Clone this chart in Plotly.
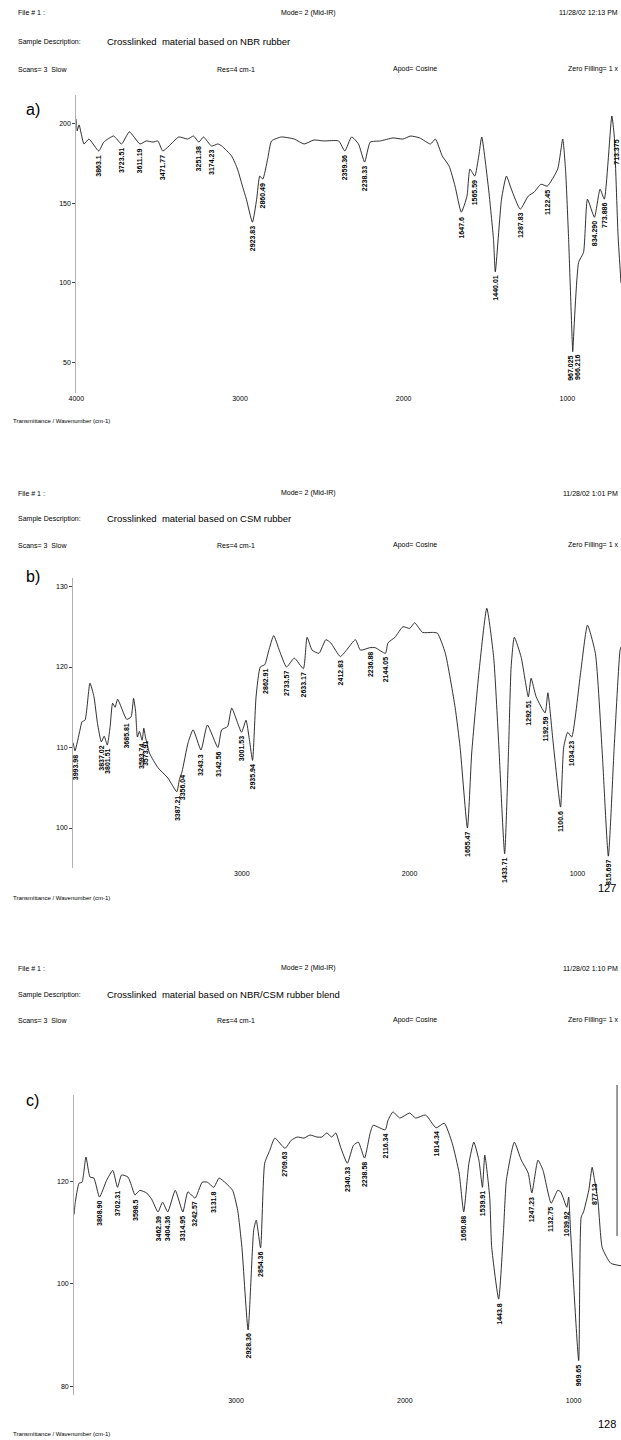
import plotly.graph_objects as go

PAGE_W, PAGE_H = 621, 1440


def px(x):
    return x / PAGE_W


def py(y):
    return 1 - y / PAGE_H


# ---------------- spectrum a) NBR rubber ----------------
a_wn = [4000, 3995, 3983, 3953, 3923, 3863.1, 3832, 3772, 3723.51, 3676,
        3611.19, 3573, 3531, 3502, 3471.77, 3434, 3374, 3320, 3284, 3251.38,
        3223, 3174.23, 3135, 3111, 3051, 3015, 2985, 2961, 2923.83, 2898,
        2879, 2860.49, 2831, 2807, 2747, 2668, 2608, 2548, 2488, 2397,
        2359.36, 2318, 2276, 2238.33, 2204, 2143, 2065, 2005, 1957, 1902,
        1836, 1806, 1764, 1722, 1686, 1647.6, 1613, 1595, 1565.59, 1541,
        1523, 1481, 1451, 1440.01, 1402, 1372, 1342, 1287.83, 1239, 1203,
        1161, 1122.45, 1059, 1028, 1010, 992, 967.025, 966.216, 931, 901,
        877, 834.29, 800, 773.886, 728, 713.375, 690, 672]
a_t = [203, 195.6, 199.4, 187.4, 190.5, 183, 188.6, 192.4, 187.4, 195,
       187.4, 189.3, 188.6, 189.3, 183, 186.1, 191.8, 190.5, 192.4, 188.6,
       191.8, 186.1, 187.4, 186.1, 179.8, 171.6, 160.9, 152.7, 138.2, 152.7,
       167.2, 165.3, 177.9, 189.3, 191.8, 190.5, 187.4, 189.9, 189.3, 189.3,
       183, 191.8, 187.4, 176, 188.6, 189.3, 191.2, 190.5, 192.4, 191.2,
       187.4, 190.5, 179.8, 173.5, 160.9, 144.5, 154.6, 171.6, 167.2, 179.8,
       191.8, 159, 127.4, 107, 152.7, 167.2, 159, 146.4, 154.6, 157.1,
       162.1, 160.9, 171.6, 190.5, 169.7, 127.4, 56.8, 57.5, 112.9, 119.2,
       152.7, 141.3, 159, 152.7, 205, 192.4, 130, 100]
a_peaks = ["3863.1", "3723.51", "3611.19", "3471.77", "3251.38", "3174.23",
           "2923.83", "2860.49", "2359.36", "2238.33", "1647.6", "1565.59",
           "1440.01", "1287.83", "1122.45", "967.025", "966.216", "834.290",
           "773.886", "713.375"]
a_yticks = [50, 100, 150, 200]

# ---------------- spectrum b) CSM rubber ----------------
b_wn = [4005, 3993.98, 3964, 3952, 3934, 3905, 3881, 3860, 3837.02, 3820,
        3801.51, 3785, 3770, 3755, 3740, 3685.81, 3660, 3645, 3633, 3622,
        3610, 3593.74, 3584, 3573.91, 3550, 3500, 3440, 3387.21, 3372, 3356.04,
        3320, 3290, 3243.3, 3205, 3142.56, 3120, 3085, 3060, 3001.53, 2975,
        2955, 2935.94, 2915, 2890, 2862.91, 2840, 2810, 2775, 2733.57, 2687,
        2633.17, 2611, 2581, 2540, 2499, 2470, 2412.83, 2376, 2323, 2293,
        2236.88, 2205, 2144.05, 2129, 2087, 2040, 1999, 1970, 1923, 1864,
        1834, 1787, 1729, 1699, 1655.47, 1630, 1587, 1540, 1499, 1470,
        1433.71, 1410, 1395, 1376, 1335, 1292.51, 1276, 1246, 1192.59, 1176,
        1146, 1100.6, 1082, 1058, 1034.23, 981, 940, 893, 852, 815.697,
        781, 746, 740]
b_t = [110.6, 109.6, 112.2, 113.2, 113.4, 118.0, 116.3, 113.0, 110.7, 111.4,
       110.3, 112.5, 115.5, 115.0, 116.0, 113.5, 113.8, 116.1, 114.5, 111.3,
       112.0, 110.9, 112.4, 111.3, 109.3, 107.5, 106.2, 104.5, 106.0, 107.0,
       110.6, 112.2, 109.7, 112.8, 110.0, 112.2, 112.6, 114.9, 111.9, 113.4,
       111.0, 108.4, 116.3, 120.0, 120.3, 122.0, 123.9, 122.0, 120.0, 121.1,
       119.8, 123.7, 122.1, 121.7, 123.4, 123.0, 121.3, 122.1, 123.4, 122.1,
       122.4, 122.4, 121.7, 123.0, 123.7, 125.0, 124.8, 125.5, 124.3, 124.3,
       124.2, 121.7, 115.0, 110.0, 100.0, 109.3, 119.3, 127.3, 121.2, 110.9,
       96.8, 110.0, 120.0, 123.7, 121.2, 116.3, 118.6, 116.3, 114.3, 116.8,
       110.9, 102.6, 110.0, 111.9, 111.3, 119.3, 125.2, 121.7, 109.3, 96.5,
       110.0, 122.1, 122.5]
b_peaks = ["3993.98", "3837.02", "3801.51", "3685.81", "3593.74", "3573.91",
           "3387.21", "3356.04", "3243.3", "3142.56", "3001.53", "2935.94",
           "2862.91", "2733.57", "2633.17", "2412.83", "2236.88", "2144.05",
           "1655.47", "1433.71", "1292.51", "1192.59", "1100.6", "1034.23",
           "815.697"]
b_yticks = [100, 110, 120, 130]

# ---------------- spectrum c) NBR/CSM blend ----------------
c_wn = [3959, 3953, 3930, 3912, 3889, 3865, 3842, 3808.9, 3766, 3730,
        3702.31, 3678, 3640, 3620, 3598.5, 3570, 3530, 3500, 3462.39, 3435,
        3404.36, 3360, 3314.95, 3285, 3242.57, 3200, 3170, 3131.8, 3100, 3060,
        3020, 2990, 2965, 2928.36, 2895, 2880, 2854.36, 2830, 2800, 2770,
        2709.63, 2672, 2637, 2597, 2562, 2520, 2491, 2462, 2433, 2409,
        2380, 2340.33, 2304, 2275, 2238.58, 2205, 2187, 2116.34, 2099, 2070,
        2029, 1971, 1936, 1877, 1814.34, 1766, 1719, 1678, 1650.88, 1620,
        1591, 1561, 1539.91, 1526, 1497, 1485, 1443.8, 1415, 1398, 1351,
        1310, 1269, 1247.23, 1211, 1181, 1132.75, 1094, 1076, 1039.92, 1029,
        1018, 969.65, 955, 941, 910, 890, 877.13, 855, 830, 780,
        719]
c_t = [113.5, 115.7, 119.6, 119.8, 124.7, 120.8, 120.6, 116.9, 120.2, 122.1,
       118.8, 121.2, 120.8, 119.2, 117.3, 118.2, 117.7, 116.5, 114.0, 115.9,
       114.0, 118.2, 114.0, 117.9, 116.7, 119.8, 119.8, 118.8, 120.6, 119.6,
       118.2, 114.3, 107.1, 91.0, 110.5, 112.4, 107.0, 123.5, 126.0, 128.4,
       126.4, 128.0, 128.6, 128.4, 129.0, 128.6, 128.6, 129.4, 128.6, 129.4,
       126.6, 123.5, 127.0, 127.6, 124.5, 129.4, 130.9, 130.0, 131.9, 133.5,
       132.3, 133.3, 132.3, 132.9, 130.4, 131.3, 127.4, 121.6, 114.0, 123.5,
       127.6, 124.1, 118.8, 125.1, 116.9, 107.1, 97.0, 110.4, 120.2, 127.6,
       124.1, 121.6, 117.7, 124.1, 122.1, 115.7, 118.2, 117.9, 114.9, 116.9,
       110.4, 85.0, 113.0, 114.0, 118.2, 122.7, 120.5, 116.0, 107.0, 104.0,
       103.5]
c_peaks = ["3808.90", "3702.31", "3598.5", "3462.39", "3404.36", "3314.95",
           "3242.57", "3131.8", "2928.36", "2854.36", "2709.63", "2340.33",
           "2238.58", "2116.34", "1814.34", "1650.88", "1539.91", "1443.8",
           "1247.23", "1132.75", "1039.92", "969.65", "877.13"]
c_yticks = [80, 100, 120]

xticks_a = [4000, 3000, 2000, 1000]
xticks_bc = [3000, 2000, 1000]

# small sideways nudges for crowded labels
label_xshift = {"967.025": -3, "966.216": 4, "713.375": 2}

headers = [
    dict(mode="Mode= 2 (Mid-IR)", date="11/28/02 12:13 PM",
         desc="Crosslinked  material based on NBR rubber",
         rows=(13, 42, 69), tag="a)", tag_y=110, page=None, foot_y=421),
    dict(mode="Mode= 2 (Mid-IR)", date="11/28/02 1:01 PM",
         desc="Crosslinked  material based on CSM rubber",
         rows=(493, 519, 545), tag="b)", tag_y=576, page="127", foot_y=898),
    dict(mode="Mode= 2 (Mid-IR)", date="11/28/02 1:10 PM",
         desc="Crosslinked  material based on NBR/CSM rubber blend",
         rows=(968, 995, 1020), tag="c)", tag_y=1100, page="128", foot_y=1434),
]

panels = [
    dict(wn=a_wn, t=a_t, peaks=a_peaks, xa="x", ya="y",
         xdom=(69.2, 621), xr=(4000, 672), ydom=(95, 393), yr=(30.8, 218.2),
         yt=a_yticks, xt=xticks_a),
    dict(wn=b_wn, t=b_t, peaks=b_peaks, xa="x2", ya="y2",
         xdom=(66, 621), xr=(4005, 740.3), ydom=(578, 868), yr=(95.03, 131.06),
         yt=b_yticks, xt=xticks_bc),
    dict(wn=c_wn, t=c_t, peaks=c_peaks, xa="x3", ya="y3",
         xdom=(67, 621), xr=(3959, 719), ydom=(1095, 1395), yr=(78.3, 136.8),
         yt=c_yticks, xt=xticks_bc),
]

for p in panels:
    assert len(p["wn"]) == len(p["t"])

fig = go.Figure()
HEAD_FONT = "Liberation Sans, Arial, sans-serif"
LABEL_FONT = "Liberation Sans Narrow, Liberation Sans, Arial, sans-serif"
annotations = []
layout_axes = {}

for i, p in enumerate(panels):
    fig.add_trace(go.Scatter(
        x=p["wn"], y=p["t"], mode="lines",
        line=dict(color="#1a1a1a", width=0.9, shape="spline", smoothing=0.5),
        xaxis=p["xa"], yaxis=p["ya"], hoverinfo="skip", showlegend=False))

    suffix = "" if i == 0 else str(i + 1)
    layout_axes["xaxis" + suffix] = dict(
        domain=[px(p["xdom"][0]), px(p["xdom"][1])], range=list(p["xr"]),
        anchor=p["ya"], tickvals=p["xt"], ticks="", showline=False,
        showgrid=False, zeroline=False,
        tickfont=dict(family=HEAD_FONT, size=7, color="#000"))
    layout_axes["yaxis" + suffix] = dict(
        domain=[py(p["ydom"][1]), py(p["ydom"][0])], range=list(p["yr"]),
        anchor=p["xa"], tickvals=p["yt"], ticks="outside", ticklen=3,
        tickcolor="#444", tickwidth=1, showline=True, linecolor="#b0b0b0",
        linewidth=1, showgrid=False, zeroline=False,
        tickfont=dict(family=HEAD_FONT, size=7, color="#000"))

    # peak position labels hanging under each band
    for lab in p["peaks"]:
        w = float(lab)
        k = min(range(len(p["wn"])), key=lambda j: abs(p["wn"][j] - w))
        annotations.append(dict(
            x=p["wn"][k], y=p["t"][k], xref=p["xa"], yref=p["ya"],
            text=lab, showarrow=False, textangle=-90,
            xanchor="center", yanchor="top", yshift=-2,
            xshift=label_xshift.get(lab, 0),
            font=dict(family=LABEL_FONT, size=7, color="#000",
                      weight="bold")))

for h in headers:
    r1, r2, r3 = h["rows"]
    small = dict(family=HEAD_FONT, size=7, color="#000")
    items = [
        (8, r1, "File # 1 :", "left", small),
        (304, r1, h["mode"], "center", small),
        (620, r1, h["date"], "right", small),
        (8, r2, "Sample Description:", "left", small),
        (98, r2 - 1, h["desc"], "left",
         dict(family=HEAD_FONT, size=9.5, color="#000")),
        (8, r3, "Scans= 3  Slow", "left", small),
        (210, r3, "Res=4 cm-1", "left", small),
        (388, r3, "Apod= Cosine", "left", small),
        (620, r3, "Zero Filling= 1 x", "right", small),
        (16, h["tag_y"], h["tag"], "left",
         dict(family=HEAD_FONT, size=16, color="#000")),
        (3, h["foot_y"], "Transmittance / Wavenumber (cm-1)", "left",
         dict(family=HEAD_FONT, size=6, color="#000")),
    ]
    if h["page"]:
        items.append((618, h["foot_y"] - 10, h["page"], "right",
                      dict(family=HEAD_FONT, size=11, color="#000")))
    for x, y, txt, anc, fnt in items:
        annotations.append(dict(
            x=px(x), y=py(y), xref="paper", yref="paper", text=txt,
            showarrow=False, xanchor=anc, yanchor="middle", font=fnt))

fig.update_layout(
    width=PAGE_W, height=PAGE_H,
    margin=dict(l=0, r=0, t=0, b=0),
    paper_bgcolor="white", plot_bgcolor="white",
    annotations=annotations,
    shapes=[dict(type="line", xref="paper", yref="paper",
                 x0=px(617), x1=px(617), y0=py(1085), y1=py(1236),
                 line=dict(color="#7a7a7a", width=1.5))],
    **layout_axes)

fig.write_html("out.html", config={"displayModeBar": False})
